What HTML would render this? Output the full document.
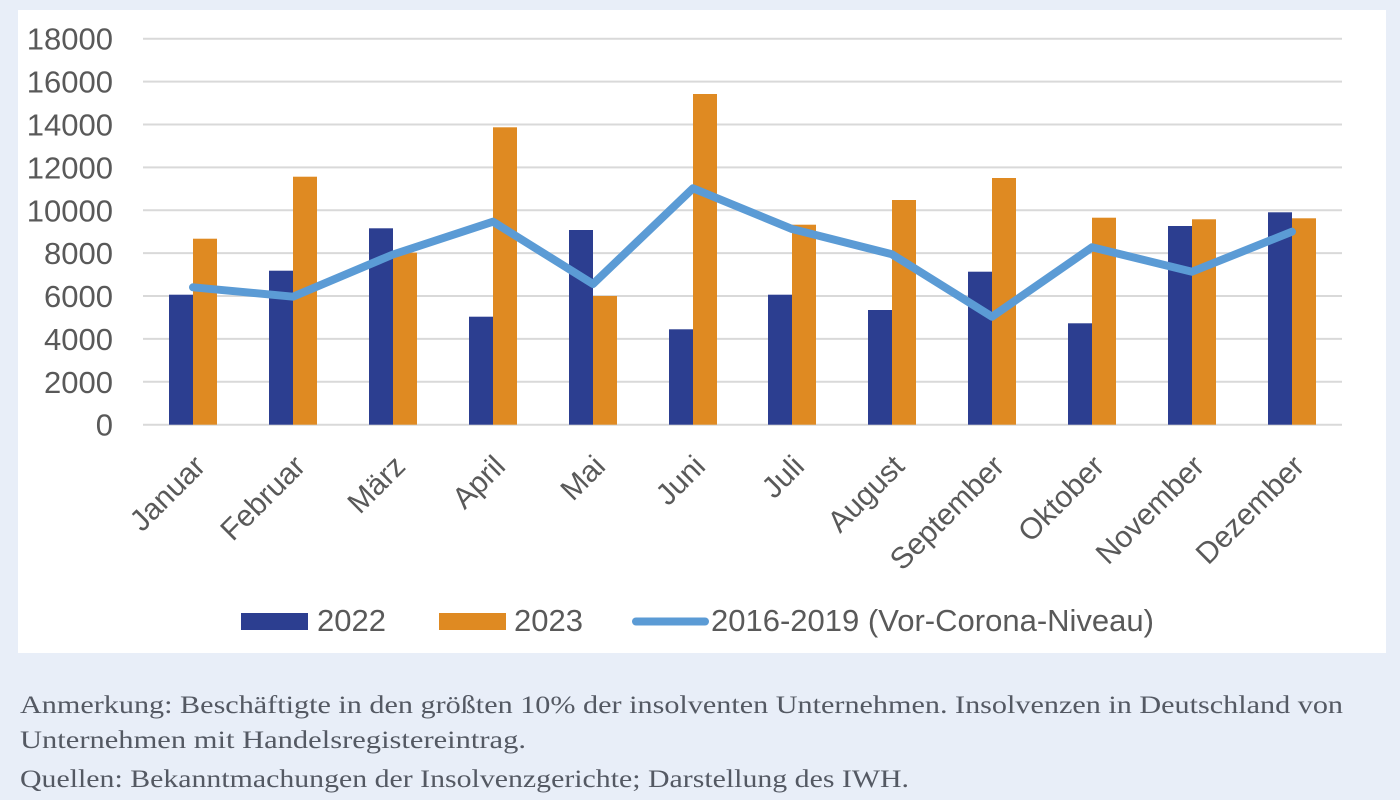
<!DOCTYPE html>
<html>
<head>
<meta charset="utf-8">
<style>
  html, body { margin:0; padding:0; background:#e8eef8; }
  body { width:1400px; height:800px; overflow:hidden; }
  svg { display:block; }
</style>
</head>
<body>
<svg width="1400" height="800" viewBox="0 0 1400 800" xmlns="http://www.w3.org/2000/svg">
  <rect x="0" y="0" width="1400" height="800" fill="#e8eef8"/>
  <rect x="18" y="10" width="1368" height="643" fill="#ffffff"/>

  <!-- gridlines -->
  <g stroke="#d9d9d9" stroke-width="2">
    <line x1="143" y1="38.7" x2="1342" y2="38.7"/>
    <line x1="143" y1="81.6" x2="1342" y2="81.6"/>
    <line x1="143" y1="124.5" x2="1342" y2="124.5"/>
    <line x1="143" y1="167.4" x2="1342" y2="167.4"/>
    <line x1="143" y1="210.3" x2="1342" y2="210.3"/>
    <line x1="143" y1="253.1" x2="1342" y2="253.1"/>
    <line x1="143" y1="296.0" x2="1342" y2="296.0"/>
    <line x1="143" y1="338.9" x2="1342" y2="338.9"/>
    <line x1="143" y1="381.8" x2="1342" y2="381.8"/>
    <line x1="143" y1="424.7" x2="1342" y2="424.7"/>
  </g>

  <!-- y labels -->
  <g font-family="'Liberation Sans', sans-serif" font-size="31" fill="#595959" text-anchor="end">
    <text x="113" y="49.7">18000</text>
    <text x="113" y="92.6">16000</text>
    <text x="113" y="135.5">14000</text>
    <text x="113" y="178.4">12000</text>
    <text x="113" y="221.3">10000</text>
    <text x="113" y="264.1">8000</text>
    <text x="113" y="307.0">6000</text>
    <text x="113" y="349.9">4000</text>
    <text x="113" y="392.8">2000</text>
    <text x="113" y="435.7">0</text>
  </g>

  <!-- 2022 bars -->
  <g fill="#2c3e90">
    <rect x="169" y="294.7" width="24" height="130"/>
    <rect x="269" y="270.7" width="24" height="154"/>
    <rect x="369" y="228.3" width="24" height="196.4"/>
    <rect x="469" y="316.7" width="24" height="108"/>
    <rect x="569" y="230.0" width="24" height="194.7"/>
    <rect x="669" y="329.3" width="24" height="95.4"/>
    <rect x="768" y="294.7" width="24" height="130"/>
    <rect x="868" y="310.0" width="24" height="114.7"/>
    <rect x="968" y="271.7" width="24" height="153"/>
    <rect x="1068" y="323.3" width="24" height="101.4"/>
    <rect x="1168" y="226.0" width="24" height="198.7"/>
    <rect x="1268" y="212.3" width="24" height="212.4"/>
  </g>
  <!-- 2023 bars -->
  <g fill="#df8a22">
    <rect x="193" y="238.7" width="24" height="186"/>
    <rect x="293" y="176.7" width="24" height="248"/>
    <rect x="393" y="252.7" width="24" height="172"/>
    <rect x="493" y="127.3" width="24" height="297.4"/>
    <rect x="593" y="296.0" width="24" height="128.7"/>
    <rect x="693" y="94.0" width="24" height="330.7"/>
    <rect x="792" y="224.7" width="24" height="200"/>
    <rect x="892" y="200.0" width="24" height="224.7"/>
    <rect x="992" y="178.0" width="24" height="246.7"/>
    <rect x="1092" y="217.7" width="24" height="207"/>
    <rect x="1192" y="219.3" width="24" height="205.4"/>
    <rect x="1292" y="218.3" width="24" height="206.4"/>
  </g>

  <!-- line -->
  <polyline fill="none" stroke="#5b9bd5" stroke-width="8" stroke-linecap="round" stroke-linejoin="round"
    points="193,287.3 293,296.7 393,254.5 493,221.7 593,284 693,188.3 792,229 892,254.3 992,316.7 1092,247.3 1192,271.7 1292,231.7"/>

  <!-- x labels -->
  <g font-family="'Liberation Sans', sans-serif" font-size="30" fill="#595959" text-anchor="end">
    <text transform="translate(207,468) rotate(-45)">Januar</text>
    <text transform="translate(307,468) rotate(-45)">Februar</text>
    <text transform="translate(407,468) rotate(-45)">März</text>
    <text transform="translate(507,468) rotate(-45)">April</text>
    <text transform="translate(607,468) rotate(-45)">Mai</text>
    <text transform="translate(707,468) rotate(-45)">Juni</text>
    <text transform="translate(806,468) rotate(-45)">Juli</text>
    <text transform="translate(906,468) rotate(-45)">August</text>
    <text transform="translate(1006,468) rotate(-45)">September</text>
    <text transform="translate(1106,468) rotate(-45)">Oktober</text>
    <text transform="translate(1206,468) rotate(-45)">November</text>
    <text transform="translate(1306,468) rotate(-45)">Dezember</text>
  </g>

  <!-- legend -->
  <rect x="241" y="613" width="67" height="17" fill="#2c3e90"/>
  <rect x="439" y="613" width="67" height="17" fill="#df8a22"/>
  <line x1="636" y1="621.5" x2="705" y2="621.5" stroke="#5b9bd5" stroke-width="8" stroke-linecap="round"/>
  <g font-family="'Liberation Sans', sans-serif" font-size="31" fill="#595959">
    <text x="317" y="631">2022</text>
    <text x="514" y="631">2023</text>
    <text x="711" y="631" textLength="443" lengthAdjust="spacingAndGlyphs">2016-2019 (Vor-Corona-Niveau)</text>
  </g>

  <!-- footnotes -->
  <g font-family="'Liberation Serif', serif" font-size="25" fill="#545963">
    <text x="20" y="713" textLength="1323" lengthAdjust="spacingAndGlyphs">Anmerkung: Beschäftigte in den größten 10% der insolventen Unternehmen. Insolvenzen in Deutschland von</text>
    <text x="20" y="748" textLength="506" lengthAdjust="spacingAndGlyphs">Unternehmen mit Handelsregistereintrag.</text>
    <text x="20" y="787" textLength="889" lengthAdjust="spacingAndGlyphs">Quellen: Bekanntmachungen der Insolvenzgerichte; Darstellung des IWH.</text>
  </g>
</svg>
</body>
</html>
